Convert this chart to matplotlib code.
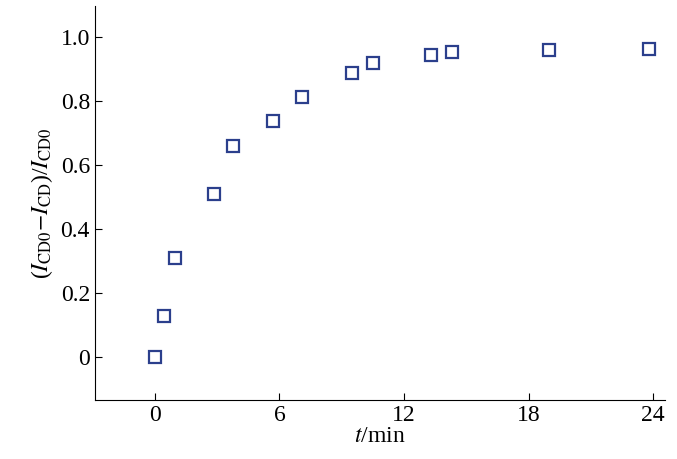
import matplotlib
matplotlib.use('Agg')
import matplotlib.pyplot as plt

plt.rcParams['font.family'] = ['Liberation Serif', 'DejaVu Serif']
plt.rcParams['mathtext.fontset'] = 'stix'

t_min = [0.0, 0.43, 0.97, 2.85, 3.77, 5.7, 7.1, 9.5, 10.5, 13.3, 14.3, 19.0, 23.8]
ratio = [0.0, 0.13, 0.31, 0.51, 0.66, 0.74, 0.815, 0.89, 0.92, 0.945, 0.955, 0.96, 0.965]
xticks = [0, 6, 12, 18, 24]
yticks = [0, 0.2, 0.4, 0.6, 0.8, 1.0]
ylabels = ['0', '0.2', '0.4', '0.6', '0.8', '1.0']

fig = plt.figure(figsize=(6.77, 4.59), dpi=100)
ax = fig.add_axes([0.14, 0.128, 0.843, 0.86])
ax.plot(t_min, ratio, 's', ms=9, mfc='none', mec='#2b3f8c', mew=1.6)
ax.set_xlim(-2.9, 24.6)
ax.set_ylim(-0.135, 1.10)
ax.set_xticks(xticks)
ax.set_yticks(yticks)
ax.set_yticklabels(ylabels)
ax.spines['top'].set_visible(False)
ax.spines['right'].set_visible(False)
ax.tick_params(direction='in', labelsize=17, length=5)
ax.set_xlabel(r'$t$/min', fontsize=17, labelpad=0)
ax.set_ylabel(r'($I_{\rm CD0}$$-$$I_{\rm CD}$)/$I_{\rm CD0}$', fontsize=17)
fig.savefig('out.png')
